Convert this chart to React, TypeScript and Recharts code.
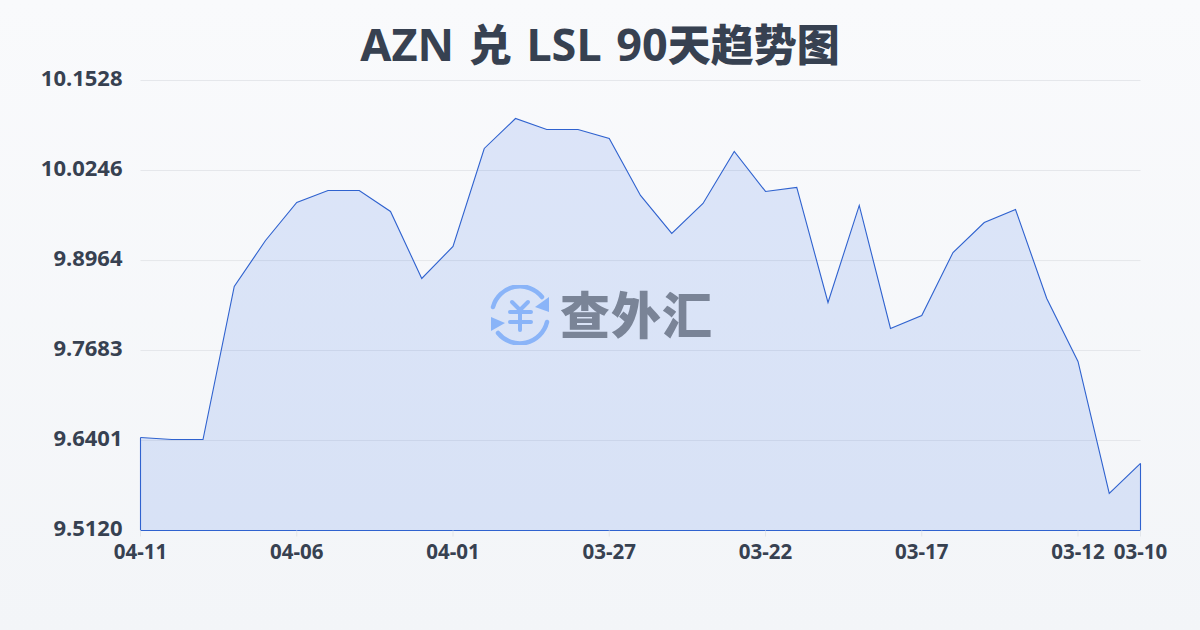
import React from "react";
import { AreaChart, Area, XAxis, YAxis, CartesianGrid, ReferenceLine } from "recharts";

const dates = ["04-11","04-10","04-09","04-08","04-07","04-06","04-05","04-04","04-03","04-02","04-01","03-31","03-30","03-29","03-28","03-27","03-26","03-25","03-24","03-23","03-22","03-21","03-20","03-19","03-18","03-17","03-16","03-15","03-14","03-13","03-12","03-11","03-10"];
const rates = [9.6444,9.6416,9.6416,9.8595,9.9250,9.9791,9.9962,9.9962,9.9663,9.8709,9.9165,10.0560,10.0987,10.0831,10.0831,10.0703,9.9891,9.9350,9.9777,10.0518,9.9948,10.0005,9.8367,9.9749,9.7997,9.8182,9.9079,9.9506,9.9691,9.8424,9.7527,9.5647,9.6075];
const yTicks = [9.512,9.6401,9.7683,9.8964,10.0246,10.1528];
const xTicks = ["04-11","04-06","04-01","03-27","03-22","03-17","03-12","03-10"];
const titleLatin = ["AZN ", " LSL 90"];
const titleCjk = ["兑", "天趋势图"];
const brand = "查外汇";
const font = "'Noto Sans','Noto Sans CJK SC',sans-serif";
const rows = dates.map((date, i) => ({ date, rate: rates[i] }));
const yMin = yTicks[0];
const yMax = yTicks[yTicks.length - 1];
const LINE = "#2f62cf";
const FILL = "#2f6be8";
const ICON = "#8ab4f8";
const cjkStyle = { fontSize: 43, fontWeight: 900 };

export default function App() {
  return (
    <div style={{ position: "fixed", left: 0, top: 0, width: 1200, height: 630, overflow: "hidden", background: "linear-gradient(180deg,#f9fafc 0%,#f3f5f8 100%)", fontFamily: font }}>
      <div style={{ position: "absolute", left: 0, width: 1200, top: 16, textAlign: "center", fontSize: 45, fontWeight: 700, lineHeight: "56px", color: "#374151", wordSpacing: 3, whiteSpace: "pre" }}>
        {titleLatin[0]}<span style={cjkStyle}>{titleCjk[0]}</span>{titleLatin[1]}<span style={cjkStyle}>{titleCjk[1]}</span>
      </div>
      <AreaChart width={1200} height={630} data={rows} margin={{ top: 80.5, right: 59.5, bottom: 0, left: 0 }} style={{ position: "absolute", left: 0, top: 0 }}>
        <CartesianGrid horizontal vertical={false} stroke="#e5e7eb" strokeWidth={1} syncWithTicks />
        <XAxis dataKey="date" interval={0} ticks={xTicks} height={99.5} tickLine={{ stroke: "#e3e6ea" }} tickSize={6} axisLine={false} tick={{ fontSize: 20.5, fontWeight: 700, fill: "#374151", fontFamily: font }} tickMargin={8} padding={{ left: 0, right: 0 }} />
        <YAxis width={140.5} type="number" domain={[yMin, yMax]} ticks={yTicks} interval={0} tickFormatter={(v: number) => v.toFixed(4)} axisLine={false} tickLine={false} tickSize={0} tickMargin={18} tick={{ fontSize: 22, fontWeight: 700, fill: "#374151", fontFamily: font, dy: -2 }} />
        <Area type="linear" dataKey="rate" stroke={LINE} strokeWidth={1.1} fill={FILL} fillOpacity={0.14} isAnimationActive={false} dot={false} activeDot={false} baseValue={yMin} />
        <ReferenceLine segment={[{ x: dates[0], y: yMin }, { x: dates[dates.length - 1], y: yMin }]} stroke={LINE} strokeWidth={1.1} />
        <ReferenceLine segment={[{ x: dates[0], y: yMin }, { x: dates[0], y: rates[0] }]} stroke={LINE} strokeWidth={1.1} />
        <ReferenceLine segment={[{ x: dates[dates.length - 1], y: yMin }, { x: dates[dates.length - 1], y: rates[rates.length - 1] }]} stroke={LINE} strokeWidth={1.1} />
      </AreaChart>
      <svg width={60} height={60} viewBox="0 0 60 60" style={{ position: "absolute", left: 490, top: 285 }}>
        <g fill="none" stroke={ICON} strokeWidth={4.5} strokeLinecap="round" strokeLinejoin="round">
          <path d="M3 22 A28 28 0 0 1 52 12" />
          <path d="M57 37 A28 28 0 0 1 8 48" />
          <path d="M22 17 L30 25 L38 17 M30 25 L30 45 M20 27 L41 27 M20 37 L41 37" strokeWidth={4} />
        </g>
        <path d="M59 12 L59 27 L45 22 Z" fill={ICON} />
        <path d="M1 32 L1 46 L15 38 Z" fill={ICON} />
      </svg>
      <div style={{ position: "absolute", left: 560, top: 280, fontSize: 50, fontWeight: 900, lineHeight: "70px", color: "#7a8497", letterSpacing: 1 }}>{brand}</div>
    </div>
  );
}
